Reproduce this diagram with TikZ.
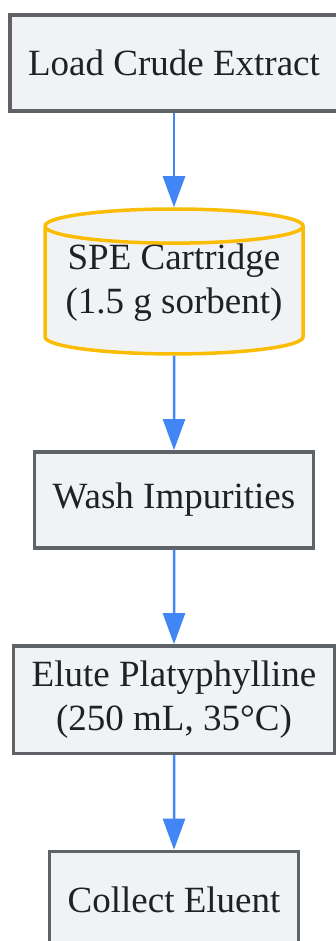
\documentclass[tikz,border=0pt]{standalone}
\usepackage{fontspec}
\setmainfont{Liberation Serif}
\usetikzlibrary{arrows.meta,shapes.geometric}
\definecolor{boxfill}{RGB}{241,242,244}
\definecolor{boxline}{RGB}{95,99,104}
\definecolor{cartline}{RGB}{251,188,4}
\definecolor{flowblue}{RGB}{66,133,244}
\definecolor{inktext}{RGB}{32,33,36}
\tikzset{
  stepbox/.style   = {shape=rectangle, draw=boxline, fill=boxfill,
                      line width=3.5pt, align=center, text=inktext,
                      inner xsep=18pt, inner ysep=15pt, minimum height=96pt,
                      font=\fontsize{37pt}{44pt}\selectfont},
  cartridge/.style = {stepbox, shape=cylinder, shape border rotate=90,
                      aspect=0.135, draw=cartline, inner ysep=-1pt,
                      text depth=33pt, minimum width=258pt, minimum height=120pt},
  flow/.style      = {draw=flowblue, line width=2.5pt,
                      -{Triangle[length=31pt,width=22pt]}}
}
\begin{document}
\begin{tikzpicture}
 [x=1pt, y=1pt, grow=down, level distance=94.5pt,
  growth parent anchor=south, parent anchor=south, child anchor=north,
  every child node/.style={anchor=north},
  edge from parent/.style={flow}]

  \useasboundingbox (0,0) rectangle (335,-941);

  \node [stepbox] (load) at (174,-63) {Load Crude Extract}
    child { node [cartridge] (spe) {SPE Cartridge\\(1.5 g sorbent)}
      child { node [stepbox] (wash) {Wash Impurities}
        child { node [stepbox] (elute) {Elute Platyphylline\\(250 mL, 35°C)}
          child { node [stepbox] (collect) {Collect Eluent} }
        }
      }
    };
\end{tikzpicture}
\end{document}
